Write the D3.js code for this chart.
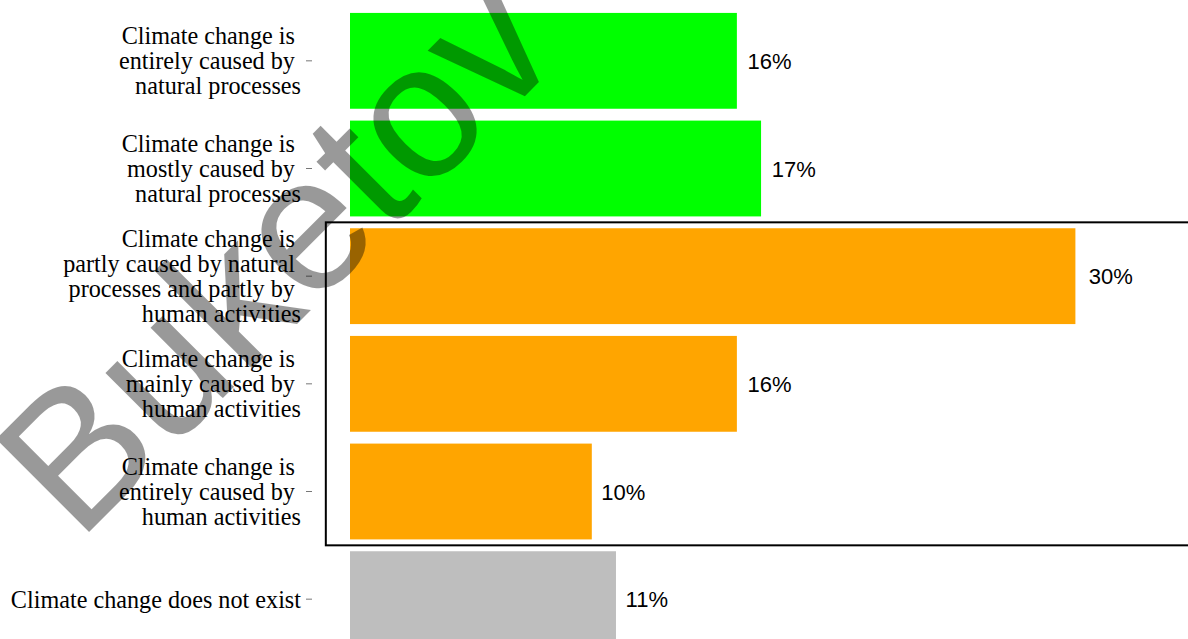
<!DOCTYPE html>
<html>
<head>
<meta charset="utf-8">
<script src="https://cdn.jsdelivr.net/npm/d3@7"></script>
<style>
  html, body { margin: 0; padding: 0; background: #fff; }
  svg { display: block; }
  .cat { font-family: "Liberation Serif", "Times New Roman", serif; font-size: 24.2px; fill: #000; }
  .val { font-family: "Liberation Sans", Arial, sans-serif; font-size: 22px; fill: #000; }
  .mark { font-family: "Liberation Sans", Arial, sans-serif; font-size: 191px; fill: #000; fill-opacity: 0.4; }
</style>
</head>
<body>
<svg id="chart" width="1188" height="639"></svg>
<script>
/* ── Data ─────────────────────────────────────────────────────────────────── */

const CATEGORIES = [
  "natural-entirely",
  "natural-mostly",
  "partly",
  "human-mainly",
  "human-entirely",
  "not-exist",
];

const LABEL_LINES = [
  ["Climate change is ", "entirely caused by ", "natural processes"],
  ["Climate change is ", "mostly caused by ", "natural processes"],
  ["Climate change is ", "partly caused by natural ", "processes and partly by ", "human activities"],
  ["Climate change is ", "mainly caused by ", "human activities"],
  ["Climate change is ", "entirely caused by ", "human activities"],
  ["Climate change does not exist"],
];

const VALUES = [16, 17, 30, 16, 10, 11];

const GROUPS = ["natural", "natural", "human", "human", "human", "none"];

const GROUP_COLORS = { natural: "#00ff00", human: "#ffa500", none: "#bebebe" };

// bars framed by the highlight box
const HIGHLIGHT = ["partly", "human-mainly", "human-entirely"];

const WATERMARK = "Buketov";

/* ── Scales ───────────────────────────────────────────────────────────────── */

const svg = d3.select("#chart");

const x = d3.scaleLinear().domain([0, 30]).range([350, 1075.4]);

const y = d3
  .scaleBand()
  .domain(CATEGORIES)
  .range([7, 653])
  .paddingInner(0.11)
  .paddingOuter(0.055);

const gap = (y.step() - y.bandwidth()) / 2;
const LINE_H = 25;

/* ── Bars ─────────────────────────────────────────────────────────────────── */

svg
  .append("g")
  .selectAll("rect")
  .data(CATEGORIES)
  .join("rect")
  .attr("x", x(0))
  .attr("y", (c) => y(c))
  .attr("width", (_, i) => x(VALUES[i]) - x(0))
  .attr("height", y.bandwidth())
  .attr("fill", (_, i) => GROUP_COLORS[GROUPS[i]]);

/* ── Value labels ─────────────────────────────────────────────────────────── */

svg
  .append("g")
  .selectAll("text")
  .data(CATEGORIES)
  .join("text")
  .attr("class", "val")
  .attr("x", (_, i) => x(VALUES[i] * 1.008) + 7.5)
  .attr("y", (c) => y(c) + y.bandwidth() / 2 + 8)
  .text((_, i) => VALUES[i] + "%");

/* ── Category axis (ticks + multi-line labels, no axis line) ──────────────── */

const axis = svg.append("g");

axis
  .selectAll("line")
  .data(CATEGORIES)
  .join("line")
  .attr("x1", 306)
  .attr("x2", 312)
  .attr("y1", (c) => y(c) + y.bandwidth() / 2)
  .attr("y2", (c) => y(c) + y.bandwidth() / 2)
  .attr("stroke", "#777")
  .attr("stroke-width", 1);

CATEGORIES.forEach((c, i) => {
  const lines = LABEL_LINES[i];
  const mid = y(c) + y.bandwidth() / 2 + 8.5;
  const t = axis
    .append("text")
    .attr("class", "cat")
    .attr("text-anchor", "end")
    .attr("xml:space", "preserve")
    .style("white-space", "pre");
  lines.forEach((ln, j) => {
    t.append("tspan")
      .attr("x", 301)
      .attr("y", mid + (j - (lines.length - 1) / 2) * LINE_H)
      .text(ln);
  });
});

/* ── Highlight box ────────────────────────────────────────────────────────── */

const boxTop = y(HIGHLIGHT[0]) - gap;
const boxBottom = y(HIGHLIGHT[HIGHLIGHT.length - 1]) + y.bandwidth() + gap;

svg
  .append("rect")
  .attr("x", x(-1))
  .attr("y", boxTop)
  .attr("width", x(35) - x(-1))
  .attr("height", boxBottom - boxTop)
  .attr("fill", "none")
  .attr("stroke", "#000")
  .attr("stroke-width", 2);

/* ── Watermark ────────────────────────────────────────────────────────────── */

svg
  .append("text")
  .attr("class", "mark")
  .attr("transform", "translate(78,543) rotate(-45)")
  .text(WATERMARK);
</script>
</body>
</html>
